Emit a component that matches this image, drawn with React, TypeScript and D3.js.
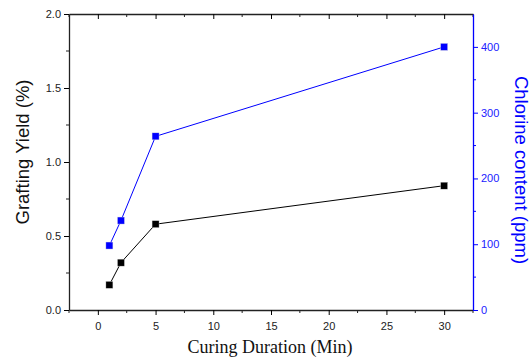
import React, { useEffect, useRef } from 'react';
import * as d3 from 'd3';

const curingMinutes = [1, 2, 5, 30];
const graftingYield = [0.17, 0.32, 0.58, 0.84];
const chlorinePpm = [98, 136, 264, 400];
const xTickValues = [0, 5, 10, 15, 20, 25, 30];
const yLeftTicks = [0, 0.5, 1.0, 1.5, 2.0];
const yRightTicks = [0, 100, 200, 300, 400];

const W = 532;
const H = 362;
const margin = { left: 69, right: 59, top: 14, bottom: 52 };

export default function App() {
  const ref = useRef<SVGSVGElement>(null);

  useEffect(() => {
    const svg = d3.select(ref.current);
    svg.selectAll('*').remove();
    const x0 = margin.left, x1 = W - margin.right;
    const y0 = H - margin.bottom, y1 = margin.top;

    const x = d3.scaleLinear().domain([-2.5, 32.5]).range([x0, x1]);
    const yL = d3.scaleLinear().domain([0, 2]).range([y0, y1]);
    const yR = d3.scaleLinear().domain([0, 450]).range([y0, y1]);

    const font = 'Liberation Sans, Arial, sans-serif';

    // bottom axis
    const bottom = svg.append('g').attr('transform', `translate(0,${y0})`)
      .call(d3.axisBottom(x).tickValues(xTickValues).tickSize(5).tickSizeOuter(0).tickFormat(d3.format('d')));
    bottom.selectAll('text').attr('font-family', font).attr('font-size', 11).attr('fill', '#222').attr('dy', '1.1em');
    bottom.append('g').selectAll('line').data(d3.range(-2.5, 33, 2.5).filter(v => v % 5 !== 0))
      .join('line').attr('x1', d => x(d)).attr('x2', d => x(d)).attr('y1', 0).attr('y2', 3).attr('stroke', '#222');

    // top axis (inward ticks)
    const top = svg.append('g').attr('transform', `translate(0,${y1})`)
      .call(d3.axisTop(x).tickValues(xTickValues).tickSize(-5).tickSizeOuter(0).tickFormat(() => ''));
    top.append('g').selectAll('line').data(d3.range(-2.5, 33, 2.5).filter(v => v % 5 !== 0))
      .join('line').attr('x1', d => x(d)).attr('x2', d => x(d)).attr('y1', 0).attr('y2', 3).attr('stroke', '#222');

    // left axis
    const left = svg.append('g').attr('transform', `translate(${x0},0)`)
      .call(d3.axisLeft(yL).tickValues(yLeftTicks).tickSize(5).tickSizeOuter(0).tickFormat(d3.format('.1f')));
    left.selectAll('text').attr('font-family', font).attr('font-size', 11).attr('fill', '#222');
    left.append('g').selectAll('line').data([0.25, 0.75, 1.25, 1.75])
      .join('line').attr('x1', 0).attr('x2', -3).attr('y1', d => yL(d)).attr('y2', d => yL(d)).attr('stroke', '#222');

    // right axis
    const right = svg.append('g').attr('transform', `translate(${x1},0)`)
      .call(d3.axisRight(yR).tickValues(yRightTicks).tickSize(5).tickSizeOuter(0));
    right.selectAll('text').attr('font-family', font).attr('font-size', 11).attr('fill', '#2020ff');
    right.selectAll('line').attr('stroke', '#0000ff');
    right.select('.domain').attr('stroke', '#0000ff');
    right.append('g').selectAll('line').data([50, 150, 250, 350])
      .join('line').attr('x1', 0).attr('x2', 3).attr('y1', d => yR(d)).attr('y2', d => yR(d)).attr('stroke', '#0000ff');

    svg.selectAll('.domain').attr('stroke-width', 1.3);
    bottom.select('.domain').attr('stroke', '#222');
    top.select('.domain').attr('stroke', '#222');
    left.select('.domain').attr('stroke', '#222');

    // series
    const series = [
      { vals: graftingYield, y: yL, color: '#000' },
      { vals: chlorinePpm, y: yR, color: '#0000ff' },
    ];
    series.forEach(s => {
      const pts = curingMinutes.map((m, i) => [x(m), s.y(s.vals[i])] as [number, number]);
      svg.append('path').attr('d', d3.line()(pts)).attr('fill', 'none').attr('stroke', s.color).attr('stroke-width', 1);
      svg.append('g').selectAll('rect').data(pts).join('rect')
        .attr('x', d => d[0] - 3.5).attr('y', d => d[1] - 3.5).attr('width', 7).attr('height', 7)
        .attr('fill', s.color).attr('stroke', '#ddd').attr('stroke-width', 0.4);
    });

    // titles
    svg.append('text').attr('transform', `translate(29,152) rotate(-90)`).attr('text-anchor', 'middle')
      .attr('font-family', font).attr('font-size', 18.5).attr('fill', '#111').text('Grafting Yield (%)');
    svg.append('text').attr('transform', `translate(515,170) rotate(90)`).attr('text-anchor', 'middle')
      .attr('font-family', font).attr('font-size', 18.5).attr('fill', '#0000ff').text('Chlorine content (ppm)');
    svg.append('text').attr('x', 270).attr('y', 353).attr('text-anchor', 'middle')
      .attr('font-family', 'Liberation Serif, Times New Roman, serif').attr('font-size', 18).attr('fill', '#111')
      .text('Curing Duration (Min)');
  }, []);

  return (
    <svg ref={ref} width={W} height={H} style={{ position: 'absolute', left: 0, top: 0, background: '#fff' }} />
  );
}
